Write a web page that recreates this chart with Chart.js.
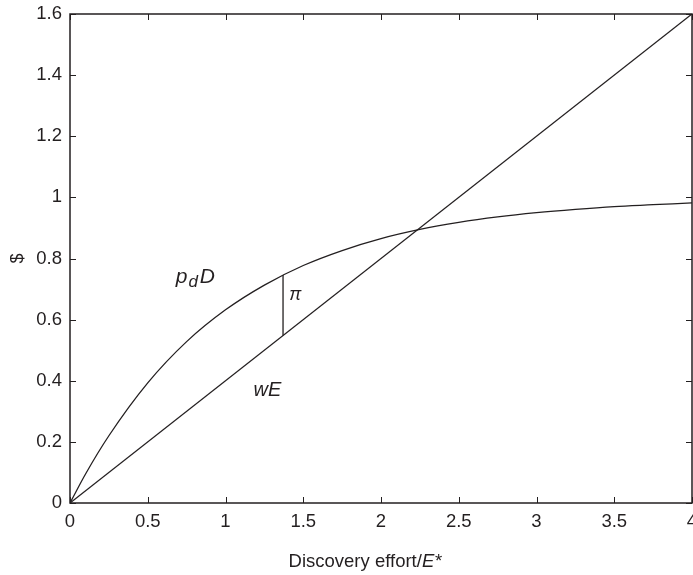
<!DOCTYPE html>
<html>
<head>
<meta charset="utf-8">
<script src="https://cdn.jsdelivr.net/npm/chart.js@4.4.1/dist/chart.umd.min.js"></script>
<style>
  html, body { margin: 0; padding: 0; background: #fff; }
  #wrap { width: 693px; height: 575px; }
</style>
</head>
<body>
<div id="wrap"><canvas id="chart" width="693" height="575"></canvas></div>
<script>
// Values
const curveX = [0, 0.1, 0.25, 0.5, 0.75, 1, 1.25, 1.5, 1.75, 2, 2.25, 2.5, 2.75, 3, 3.25, 3.5, 3.75, 4];
const curveY = [0, 0.095, 0.22, 0.393, 0.528, 0.632, 0.713, 0.777, 0.826, 0.865, 0.895, 0.918, 0.936, 0.95, 0.961, 0.97, 0.976, 0.982];
const lineX = [0, 4];
const lineY = [0, 1.6];
const gapX = [1.37, 1.37];
const gapY = [0.548, 0.746];

const xTicks = [0, 0.5, 1, 1.5, 2, 2.5, 3, 3.5, 4];
const yTicks = [0, 0.2, 0.4, 0.6, 0.8, 1, 1.2, 1.4, 1.6];

const FONT = "'Liberation Sans', Arial, sans-serif";
const INK = '#231f20';

const toPoints = (xs, ys) => xs.map((x, i) => ({ x, y: ys[i] }));

// Frame, inward ticks on all four sides, labels and axis titles
const framePlugin = {
  id: 'frame',
  afterDraw(chart) {
    const { ctx, chartArea: a, scales } = chart;
    const xs = scales.x, ys = scales.y;
    ctx.save();
    ctx.strokeStyle = INK;
    ctx.lineWidth = 1.5;
    ctx.strokeRect(a.left, a.top, a.right - a.left, a.bottom - a.top);
    ctx.lineWidth = 1;
    const t = 6;
    ctx.beginPath();
    xTicks.forEach((v) => {
      const px = Math.round(xs.getPixelForValue(v)) + 0.5;
      ctx.moveTo(px, a.bottom); ctx.lineTo(px, a.bottom - t);
      ctx.moveTo(px, a.top); ctx.lineTo(px, a.top + t);
    });
    yTicks.forEach((v) => {
      const py = Math.round(ys.getPixelForValue(v)) + 0.5;
      ctx.moveTo(a.left, py); ctx.lineTo(a.left + t, py);
      ctx.moveTo(a.right, py); ctx.lineTo(a.right - t, py);
    });
    ctx.stroke();

    ctx.fillStyle = INK;
    ctx.font = '18.5px ' + FONT;
    ctx.textAlign = 'center';
    ctx.textBaseline = 'top';
    xTicks.forEach((v) => ctx.fillText(String(v), xs.getPixelForValue(v), a.bottom + 10));
    ctx.textAlign = 'right';
    ctx.textBaseline = 'middle';
    yTicks.forEach((v) => ctx.fillText(String(v), a.left - 8, ys.getPixelForValue(v)));

    // x title with italic E*
    ctx.textBaseline = 'alphabetic';
    ctx.textAlign = 'left';
    const plain = 'Discovery effort/';
    const ital = 'E*';
    ctx.font = '18.5px ' + FONT;
    const w1 = ctx.measureText(plain).width;
    ctx.font = 'italic 18.5px ' + FONT;
    const w2 = ctx.measureText(ital).width;
    const cx = (a.left + a.right) / 2 - 16;
    const x0 = cx - (w1 + w2) / 2;
    ctx.font = '18.5px ' + FONT;
    ctx.fillText(plain, x0, 567);
    ctx.font = 'italic 18.5px ' + FONT;
    ctx.fillText(ital, x0 + w1, 567);

    // y title
    ctx.save();
    ctx.translate(18, (a.top + a.bottom) / 2);
    ctx.rotate(-Math.PI / 2);
    ctx.textAlign = 'center';
    ctx.textBaseline = 'middle';
    ctx.font = '18px ' + FONT;
    ctx.fillText('$', 0, 0);
    ctx.restore();

    // curve annotations
    const at = (x, y) => [xs.getPixelForValue(x), ys.getPixelForValue(y)];
    ctx.font = 'italic 21px ' + FONT;
    let [px, py] = at(0.68, 0.72);
    ctx.fillText('p', px, py);
    const pw = ctx.measureText('p').width;
    ctx.font = 'italic 17px ' + FONT;
    ctx.fillText('d', px + pw + 1, py + 4);
    const dw = ctx.measureText('d').width;
    ctx.font = 'italic 21px ' + FONT;
    ctx.fillText('D', px + pw + dw + 3, py);

    ctx.font = 'italic 18px ' + FONT;
    [px, py] = at(1.41, 0.665);
    ctx.fillText('π', px, py);

    ctx.font = 'italic 20px ' + FONT;
    [px, py] = at(1.18, 0.35);
    ctx.fillText('wE', px, py);
    ctx.restore();
  },
};

const lineStyle = {
  borderColor: INK,
  borderWidth: 1.3,
  pointRadius: 0,
  showLine: true,
  fill: false,
};

new Chart(document.getElementById('chart'), {
  type: 'scatter',
  data: {
    datasets: [
      { ...lineStyle, data: toPoints(curveX, curveY), cubicInterpolationMode: 'monotone' },
      { ...lineStyle, data: toPoints(lineX, lineY) },
      { ...lineStyle, data: toPoints(gapX, gapY) },
    ],
  },
  options: {
    responsive: false,
    animation: false,
    layout: { padding: { top: 14, right: 1, left: 0, bottom: 0 } },
    plugins: { legend: { display: false }, tooltip: { enabled: false } },
    scales: {
      x: {
        type: 'linear', min: 0, max: 4,
        grid: { display: false }, border: { display: false },
        ticks: { display: false },
        afterFit: (s) => { s.height = 72; },
      },
      y: {
        type: 'linear', min: 0, max: 1.6,
        grid: { display: false }, border: { display: false },
        ticks: { display: false },
        afterFit: (s) => { s.width = 70; },
      },
    },
  },
  plugins: [framePlugin],
});
</script>
</body>
</html>
